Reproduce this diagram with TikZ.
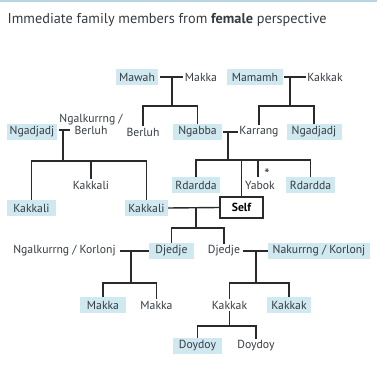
\documentclass[tikz,border=0pt]{standalone}
\usepackage{fontspec}
\setmainfont{PT Sans}
\definecolor{boxblue}{HTML}{D0E8F0}
\definecolor{txt}{HTML}{353B42}
\definecolor{ln}{HTML}{2A2A2A}
\definecolor{rule}{HTML}{B8D4DE}
\newcommand{\lab}{\fontsize{11.7}{13}\selectfont}
\begin{document}
\begin{tikzpicture}[x=1pt,y=-1pt,
  box/.style={fill=boxblue, inner sep=0pt, minimum height=16pt, text=txt, font=\lab},
  plain/.style={inner sep=1.5pt, text=txt, font=\lab},
  selfbox/.style={draw=ln, fill=white, line width=1.2pt, inner sep=0pt, minimum width=43pt, minimum height=21pt, text=black, font=\lab\bfseries},
  conn/.style={draw=ln, line width=1.4pt}]
\useasboundingbox (0,0) rectangle (377,371);
\draw[rule, line width=1.5pt] (0,1) -- (377,1);
\node[anchor=west, inner sep=0pt, text=txt, font=\fontsize{14.3}{16}\selectfont] (title) at (7.5,20) {Immediate family members from \textbf{female} perspective};
% row 1
\node[box, minimum width=42pt] (mawah) at (137,77) {Mawah};
\node[plain] (makkaA) at (201,77) {Makka};
\node[box, minimum width=56pt] (mamamh) at (255,77) {Mamamh};
\node[plain] (kakkakA) at (325,77) {Kakkak};
% row 2
\node[box, minimum width=50pt] (ngadjadjL) at (32,132) {Ngadjadj};
\node[plain, align=center, inner sep=0pt, font=\fontsize{11.7}{12}\selectfont] (ngalkB) at (91,124) {Ngalkurrng /\\Berluh};
\node[plain] (berluh) at (143,132) {Berluh};
\node[box, minimum width=49pt] (ngabba) at (197.5,132) {Ngabba};
\node[plain] (karrang) at (259,132) {Karrang};
\node[box, minimum width=55pt] (ngadjadjR) at (314,132) {Ngadjadj};
% row 3
\node[plain] (kakkaliT) at (91,185) {Kakkali};
\node[box, minimum width=48pt] (rdarddaL) at (196,185) {Rdardda};
\node[plain, inner sep=0.5pt] (yabok) at (260,185) {Yabok};
\coordinate (sx) at (267,0);
\node[anchor=south, inner sep=0pt, yshift=0.8pt, text=txt, font=\fontsize{15}{15}\selectfont] (star) at (yabok.north -| sx) {*};
\node[box, minimum width=49pt] (rdarddaR) at (310.5,185) {Rdardda};
% row 4
\node[box, minimum width=49pt] (kakkaliL) at (31.5,208) {Kakkali};
\node[box, minimum width=43pt] (kakkaliM) at (146.5,208) {Kakkali};
\node[selfbox] (self) at (241.5,207.5) {Self};
% row 5
\node[plain] (ngalkK) at (64.5,251) {Ngalkurrng / Korlonj};
\node[box, minimum width=45pt] (djedjeL) at (171.5,251) {Djedje};
\node[plain] (djedjeR) at (224,251) {Djedje};
\node[box, minimum width=102pt] (nakurrng) at (319,251) {Nakurrng / Korlonj};
% row 6
\node[box, minimum width=46pt] (makkaB) at (103,305) {Makka};
\node[plain] (makkaT) at (156.5,305) {Makka};
\node[plain] (kakkakT) at (229.5,305) {Kakkak};
\node[box, minimum width=44pt] (kakkakB) at (289,305) {Kakkak};
% row 7
\node[box, minimum width=49pt] (doydoyB) at (197.5,346) {Doydoy};
\node[plain] (doydoyT) at (256,346) {Doydoy};
% couples and descent lines
\draw[conn] (mawah.east) ++(2,0) -- (makkaA.west);
\coordinate (j1) at (172,77);
\coordinate (b1) at (172,106);
\draw[conn] (j1) -- (b1);
\draw[conn] (berluh.north) |- (b1) -| (ngabba.north);
\draw[conn] (mamamh.east) ++(1,0) -- (kakkakA.west);
\coordinate (j2) at (290,77);
\coordinate (b2) at (290,106);
\draw[conn] (j2) -- (b2);
\draw[conn] (karrang.north) |- (b2) -| (ngadjadjR.north);
\coordinate (e3) at (70,130);
\draw[conn] (ngadjadjL.east) ++(2,-2) -- (e3);
\coordinate (j3) at (63,130);
\coordinate (b3) at (63,161);
\draw[conn] (j3) -- (b3);
\draw[conn] (kakkaliL.north) |- (b3) -| (kakkaliM.north);
\draw[conn] (b3) -| (kakkaliT.north);
\draw[conn] (ngabba.east) ++(1,0) -- (karrang.west);
\coordinate (j4) at (228,132);
\coordinate (b4) at (228,160);
\draw[conn] (j4) -- (b4);
\draw[conn] (rdarddaL.north) |- (b4) -| (rdarddaR.north);
\draw[conn] (b4) -| (self.north);
\coordinate (y4) at (258,177);
\draw[conn] (b4) -| (y4);
\draw[conn] (kakkaliM.east) -- (self.west);
\coordinate (j5) at (196,208);
\coordinate (b5) at (196,228);
\draw[conn] (j5) -- (b5);
\draw[conn] (djedjeL.north) |- (b5) -| (djedjeR.north);
\draw[conn] (ngalkK.east) ++(3,0) -- (djedjeL.west);
\coordinate (j6) at (131,251);
\coordinate (b6) at (131,283);
\draw[conn] (j6) -- (b6);
\draw[conn] (makkaB.north) |- (b6) -| (makkaT.north);
\draw[conn] (djedjeR.east) ++(1,0) -- (nakurrng.west);
\coordinate (j7) at (256,251);
\coordinate (b7) at (256,283);
\draw[conn] (j7) -- (b7);
\draw[conn] (kakkakT.north) |- (b7) -| (kakkakB.north);
\coordinate (b8) at (229.5,326);
\draw[conn] (kakkakT.south) -- (b8);
\draw[conn] (doydoyB.north) |- (b8) -| (doydoyT.north);
\end{tikzpicture}
\end{document}
